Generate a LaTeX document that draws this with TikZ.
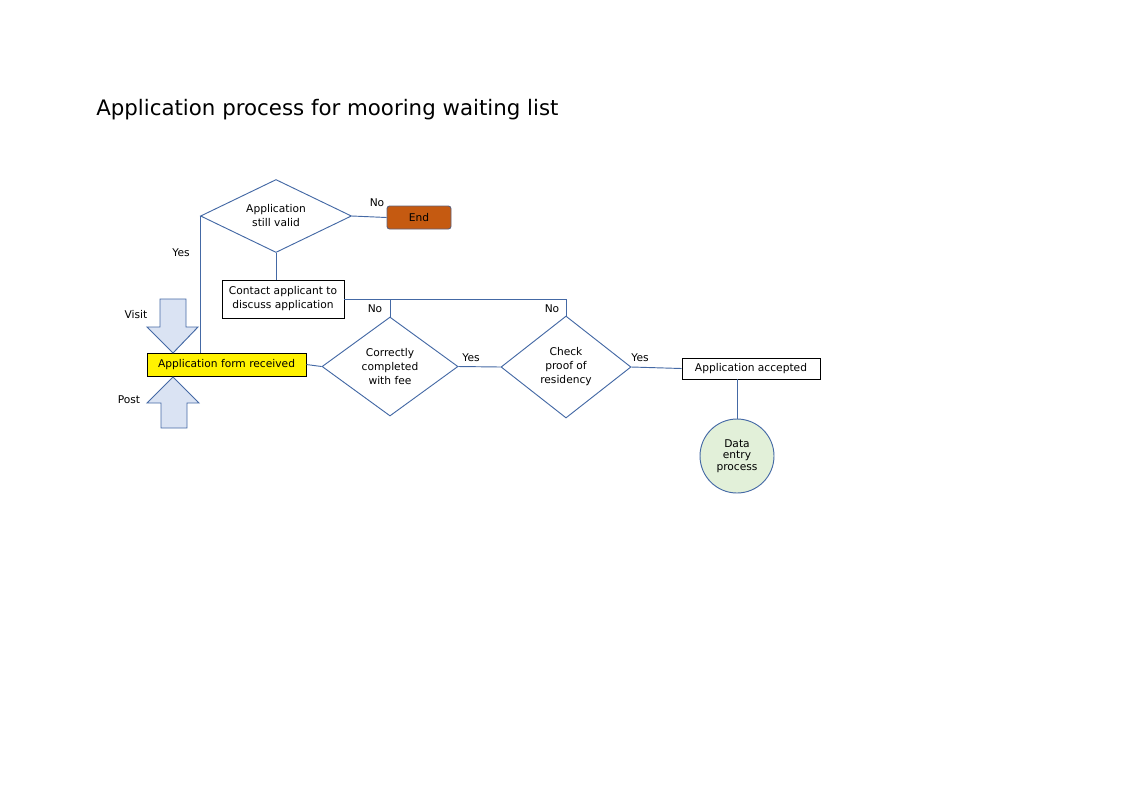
\documentclass[tikz,border=0pt]{standalone}
\usepackage{fontspec}
\setmainfont{DejaVu Sans}
\usetikzlibrary{shapes.geometric}

\definecolor{flowline}{RGB}{68,105,165}
\definecolor{arrowfill}{RGB}{218,227,243}
\definecolor{endfill}{RGB}{197,90,17}
\definecolor{endline}{RGB}{96,96,120}
\definecolor{datafill}{RGB}{226,240,217}

\begin{document}
\begin{tikzpicture}[x=0.75pt,y=-0.75pt,
    every node/.style={font=\fontsize{8}{10.5}\selectfont},
    decision/.style={diamond,draw=flowline,line width=0.7pt,inner sep=0pt,align=center},
    stepbox/.style={rectangle,draw=black,line width=0.6pt,inner sep=0pt,align=center},
    label/.style={inner sep=0pt},
    conn/.style={draw=flowline,line width=0.7pt},
    blockarrow/.style={draw=flowline,line width=0.7pt,fill=arrowfill}]
    \useasboundingbox (0,0) rectangle (1123,794);

    \node[anchor=base west,inner sep=0pt,font=\fontsize{16}{19}\selectfont] (title) at (96,115) {Application process for mooring waiting list};

    \node[decision,aspect=2.07,minimum width=113.25pt,minimum height=54.75pt] (valid) at (276,216) {Application\\still valid};
    \node[rectangle,rounded corners=2pt,draw=endline,line width=0.7pt,fill=endfill,minimum width=48pt,minimum height=17.25pt,inner sep=0pt] (end) at (419,217.5) {End};
    \node[stepbox,minimum width=91.5pt,minimum height=28.5pt] (contact) at (283,299) {Contact applicant to\\discuss application};
    \node[stepbox,fill=yellow,minimum width=119.25pt,minimum height=17.25pt] (form) at (226.5,364.5) {Application form received};
    \node[decision,aspect=1.37,minimum width=102pt,minimum height=74.25pt] (correct) at (390,366.5) {Correctly\\completed\\with fee};
    \node[decision,aspect=1.27,minimum width=97.5pt,minimum height=76.5pt] (check) at (566,367) {Check\\proof of\\residency};
    \node[stepbox,minimum width=103.5pt,minimum height=15.75pt] (accepted) at (751,368.5) {Application accepted};
    \node[circle,draw=flowline,line width=0.7pt,fill=datafill,minimum size=55.5pt,inner sep=0pt,align=center,font=\fontsize{8}{8.6}\selectfont] (data) at (737,456) {Data\\entry\\process};

    \draw[blockarrow] (160,299) -- (186,299) -- (186,327) -- (198,327) -- (173,353) -- (147,327) -- (160,327) -- cycle;
    \draw[blockarrow] (161,428) -- (187,428) -- (187,403) -- (199,403) -- (173,377) -- (147,403) -- (161,403) -- cycle;

    \node[label] (visit) at (136,315) {Visit};
    \node[label] (post) at (129,400) {Post};
    \node[label] (novalid) at (377,203) {No};
    \node[label] (yesvalid) at (181,253) {Yes};
    \node[label] (nocorrect) at (375,309) {No};
    \node[label] (nocheck) at (552,309) {No};
    \node[label] (yescorrect) at (471,358) {Yes};
    \node[label] (yescheck) at (640,358) {Yes};

    \draw[conn] (valid.east) -- (end.west);
    \draw[conn] (valid.south) -- (valid.south |- contact.north);
    \draw[conn] (valid.west) -- (valid.west |- form.north);
    \draw[conn] (form.east) -- (correct.west);
    \draw[conn] (contact.east) -| (check.north);
    \draw[conn] (correct.north) -- (correct.north |- contact.east);
    \draw[conn] (correct.east) -- (check.west);
    \draw[conn] (check.east) -- (accepted.west);
    \draw[conn] (data.north) -- (data.north |- accepted.south);
\end{tikzpicture}
\end{document}
